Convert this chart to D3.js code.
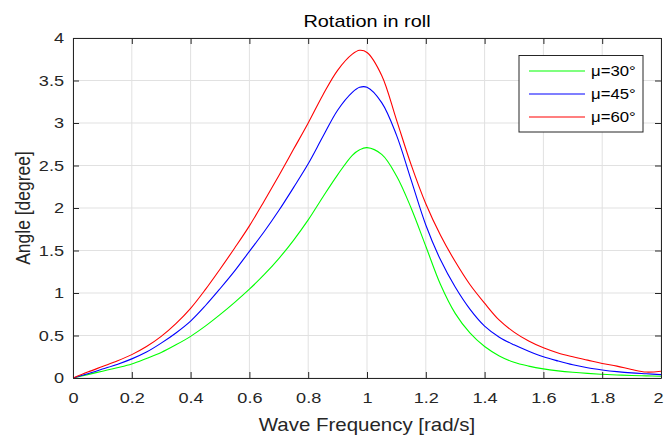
<!DOCTYPE html>
<html>
<head>
<meta charset="utf-8">
<script src="https://cdn.jsdelivr.net/npm/d3@7"></script>
<style>
  html, body { margin: 0; padding: 0; background: #fff; }
  svg { display: block; font-family: "Liberation Sans", Arial, Helvetica, sans-serif; }
</style>
</head>
<body>
<svg id="chart" width="665" height="440"></svg>
<script>
// ---- data ----
const frequency = [0, 0.05, 0.1, 0.15, 0.2, 0.25, 0.3, 0.35, 0.4, 0.45, 0.5, 0.55, 0.6, 0.65, 0.7, 0.75, 0.8, 0.85, 0.9, 0.95, 0.975,
                   1.0, 1.05, 1.1, 1.15, 1.2, 1.25, 1.3, 1.35, 1.4, 1.45, 1.5, 1.55, 1.6, 1.65, 1.7, 1.75, 1.8, 1.85, 1.9, 1.95, 2.0];
const mu30 = [0, 0.04, 0.08, 0.12, 0.165, 0.23, 0.30, 0.39, 0.49, 0.61, 0.745, 0.89, 1.045, 1.215, 1.405, 1.62, 1.86, 2.13, 2.39, 2.62, 2.685,
              2.71, 2.63, 2.38, 2.00, 1.55, 1.10, 0.76, 0.53, 0.37, 0.26, 0.185, 0.14, 0.107, 0.084, 0.067, 0.054, 0.044, 0.036, 0.03, 0.025, 0.02];
const mu45 = [0, 0.05, 0.105, 0.16, 0.225, 0.305, 0.41, 0.53, 0.67, 0.85, 1.05, 1.26, 1.49, 1.72, 1.97, 2.24, 2.52, 2.84, 3.15, 3.36, 3.42,
              3.42, 3.24, 2.86, 2.33, 1.80, 1.39, 1.07, 0.81, 0.61, 0.48, 0.39, 0.315, 0.25, 0.20, 0.155, 0.12, 0.095, 0.075, 0.06, 0.05, 0.04];
const mu60 = [0, 0.07, 0.135, 0.20, 0.275, 0.37, 0.49, 0.64, 0.82, 1.04, 1.28, 1.53, 1.79, 2.08, 2.38, 2.69, 3.00, 3.33, 3.62, 3.81, 3.855,
              3.83, 3.56, 3.04, 2.51, 2.05, 1.68, 1.37, 1.10, 0.88, 0.68, 0.54, 0.435, 0.355, 0.295, 0.25, 0.21, 0.17, 0.14, 0.10, 0.07, 0.08];
const seriesNames = ["μ=30°", "μ=45°", "μ=60°"];
const seriesColors = ["#00ff00", "#0000ff", "#ff0000"];
const xTicks = [0, 0.2, 0.4, 0.6, 0.8, 1, 1.2, 1.4, 1.6, 1.8, 2];
const yTicks = [0, 0.5, 1, 1.5, 2, 2.5, 3, 3.5, 4];
const titleText = "Rotation in roll";
const xLabelText = "Wave Frequency [rad/s]";
const yLabelText = "Angle [degree]";

// ---- layout ----
const svg = d3.select("#chart");
const L = 73, R = 661, T = 38, B = 378;
const SX = 1.17; // horizontal stretch of the reference text
const x = d3.scaleLinear().domain([0, 2]).range([L, R]);
const y = d3.scaleLinear().domain([0, 4]).range([B, T]);
const axisColor = "#262626";
const gridColor = "#e1e1e1";

// grid
const grid = svg.append("g");
grid.selectAll("line.vx").data(xTicks).enter().append("line")
  .attr("x1", d => x(d)).attr("x2", d => x(d)).attr("y1", T).attr("y2", B)
  .attr("stroke", gridColor).attr("stroke-width", 1);
grid.selectAll("line.hy").data(yTicks).enter().append("line")
  .attr("x1", L).attr("x2", R).attr("y1", d => y(d)).attr("y2", d => y(d))
  .attr("stroke", gridColor).attr("stroke-width", 1);

// curves
const all = [mu30, mu45, mu60];
const line = d3.line().x(d => x(d[0])).y(d => y(d[1])).curve(d3.curveCatmullRom.alpha(0.5));
svg.append("clipPath").attr("id", "clip").append("rect")
  .attr("x", L).attr("y", T).attr("width", R - L).attr("height", B - T);
svg.append("g").attr("clip-path", "url(#clip)")
  .selectAll("path").data(all).enter().append("path")
  .attr("d", vals => line(frequency.map((f, i) => [f, vals[i]])))
  .attr("fill", "none")
  .attr("stroke", (d, i) => seriesColors[i])
  .attr("stroke-width", 1.1);

// axes (ticks inward, box)
const tickLen = 6;
const axBottom = d3.axisBottom(x).tickValues(xTicks).tickSizeInner(-tickLen).tickSizeOuter(0).tickPadding(14).tickFormat(d3.format("~g"));
const axTop = d3.axisTop(x).tickValues(xTicks).tickSizeInner(-tickLen).tickSizeOuter(0).tickFormat("");
const axLeft = d3.axisLeft(y).tickValues(yTicks).tickSizeInner(-tickLen).tickSizeOuter(0).tickPadding(9).tickFormat(d3.format("~g"));
const axRight = d3.axisRight(y).tickValues(yTicks).tickSizeInner(-tickLen).tickSizeOuter(0).tickFormat("");

function style(g) {
  g.select(".domain").attr("stroke", axisColor).attr("stroke-width", 1);
  g.selectAll(".tick line").attr("stroke", axisColor).attr("stroke-width", 1);
  g.selectAll(".tick text").attr("fill", axisColor).style("font-size", "15.5px")
    .style("font-family", "'Liberation Sans', Arial, sans-serif");
}
const gB = svg.append("g").attr("transform", `translate(0,${B})`).call(axBottom).call(style);
gB.selectAll(".tick text").attr("transform", `scale(${SX},1)`)
  .attr("x", d => d === 2 ? -3 / SX : 0);
svg.append("g").attr("transform", `translate(0,${T})`).call(axTop).call(style);
const gL = svg.append("g").attr("transform", `translate(${L},0)`).call(axLeft).call(style);
gL.selectAll(".tick text").attr("x", -9 / SX).attr("transform", `scale(${SX},1)`);
svg.append("g").attr("transform", `translate(${R},0)`).call(axRight).call(style);

// titles
svg.append("text").attr("transform", `translate(${(L + R) / 2},27) scale(${SX},1)`).attr("text-anchor", "middle")
  .attr("fill", "#000").style("font-size", "17px").text(titleText);
svg.append("text").attr("transform", `translate(${(L + R) / 2},431) scale(${SX},1)`).attr("text-anchor", "middle")
  .attr("fill", axisColor).style("font-size", "17.5px").text(xLabelText);
svg.append("text").attr("transform", `translate(30,${(T + B) / 2}) scale(${SX},1) rotate(-90)`)
  .attr("text-anchor", "middle").attr("fill", axisColor).style("font-size", "17.5px").text(yLabelText);

// legend
const lg = svg.append("g");
lg.append("rect").attr("x", 519).attr("y", 55.5).attr("width", 124).attr("height", 76.5)
  .attr("fill", "#fff").attr("stroke", axisColor).attr("stroke-width", 1);
const rowY = [71, 94, 117];
seriesNames.forEach((name, i) => {
  lg.append("line").attr("x1", 529).attr("x2", 585).attr("y1", rowY[i]).attr("y2", rowY[i])
    .attr("stroke", seriesColors[i]).attr("stroke-width", 1.1);
  lg.append("text").attr("transform", `translate(591,${rowY[i] + 5.2}) scale(${SX},1)`).attr("fill", "#000")
    .style("font-size", "14.3px").text(name);
});
</script>
</body>
</html>
